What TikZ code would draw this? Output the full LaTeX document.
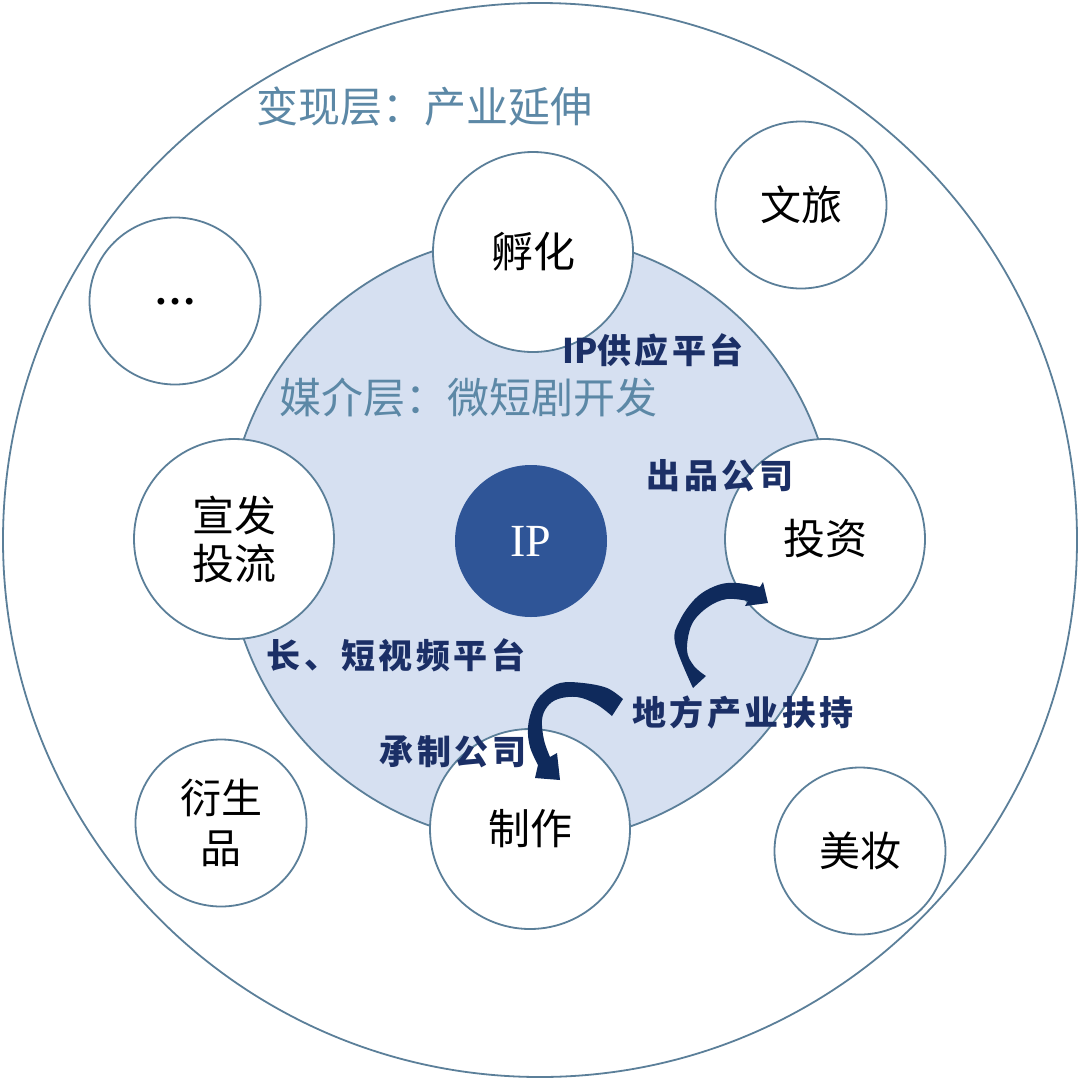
\documentclass[tikz,border=0pt]{standalone}
\usepackage{fontspec}
\setmainfont{Liberation Serif}
\newfontfamily\cjk{Noto Sans CJK SC}
\newfontfamily\cjktag{Noto Sans CJK SC}[LetterSpace=10]
\newfontfamily\cjklat{Noto Sans CJK SC}
\usetikzlibrary{shapes.geometric}
\definecolor{edgec}{HTML}{5B7F99}
\definecolor{midc}{HTML}{D6E0F1}
\definecolor{ipblue}{HTML}{2F5597}
\definecolor{layerc}{HTML}{5C88A6}
\definecolor{navyc}{HTML}{1B2F66}
\definecolor{arrowc}{HTML}{0F2A5C}
\tikzset{
  ring/.style={circle, draw=edgec, line width=1.8pt, fill=white, minimum size=#1, inner sep=0pt, align=center, font=\cjk\fontsize{42}{48}\selectfont},
  smallring/.style={ellipse, draw=edgec, line width=1.8pt, fill=white, minimum width=171pt, minimum height=167pt, inner sep=0pt, align=center, font=\cjk\fontsize{41}{50}\selectfont},
  layertitle/.style={font=\cjk\fontsize{42}{48}\selectfont, text=layerc, inner sep=0pt},
  tag/.style={font=\cjktag\bfseries\fontsize{34}{38}\selectfont, text=navyc, inner sep=0pt},
  blockarrow/.style={fill=arrowc, draw=none}
}
\begin{document}
\begin{tikzpicture}[x=1pt,y=-1pt]
\useasboundingbox (0,0) rectangle (1080,1080);
\node[circle, draw=edgec, line width=1.8pt, fill=white, minimum size=1074pt, inner sep=0pt] (outer) at (540,540) {};
\node[circle, draw=edgec, line width=1.8pt, fill=midc, minimum size=608pt, inner sep=0pt] (media) at (531,539) {};
\node[circle, fill=ipblue, minimum size=152pt, inner sep=0pt, text=white, font=\fontsize{46}{50}\selectfont] (ip) at (531,541) {IP};
\node[ring=200pt] (fuhua) at (533,252) {孵化};
\node[ring=200pt] (touzi) at (825,539) {投资};
\node[ring=200pt] (xuanfa) at (234,539) {宣发\\投流};
\node[ring=200pt] (zhizuo) at (530,829) {制作};
\node[smallring] (wenlv) at (801,205) {文旅};
\node[smallring] (more) at (175,301) {};
\node[font=\bfseries\fontsize{42}{48}\selectfont, anchor=base, inner sep=0pt] (dots) at (175,304) {…};
\node[smallring] (yansheng) at (221,823) {衍生\\品};
\node[smallring] (meizhuang) at (860,851) {美妆};
\node[layertitle] (t1) at (424,107) {变现层：产业延伸};
\node[layertitle] (t2) at (468,398) {媒介层：微短剧开发};
% curved block arrows
\coordinate (a1tail) at (693,688);
\coordinate (a1tip) at (768,603);
\fill[blockarrow] (a1tail) -- plot[smooth, tension=0.6] coordinates {(693,688) (675,643) (680,620) (697,597) (718,585) (737,583) (760,587)} -- (763,582) -- (a1tip) -- (745,606) -- plot[smooth, tension=0.6] coordinates {(748,601) (727,599) (708,607) (692,624) (687,650) (694,666) (706,676)} -- cycle;
\coordinate (a2tail) at (623,699);
\coordinate (a2tip) at (560,780);
\fill[blockarrow] (a2tail) -- plot[smooth, tension=0.6] coordinates {(623,699) (607,688) (583,683) (560,683) (543,693) (533,707) (528,727) (530,747) (538,765)} -- (535,778) -- (a2tip) -- (557,753) -- plot[smooth, tension=0.6] coordinates {(550,757) (544,740) (542,720) (547,707) (558,699) (577,697) (596,704) (612,716)} -- cycle;
\node[tag] (ipsupply) at (653,350) {{\cjklat IP}供应平台};
\node[tag] (chupin) at (720,476) {出品公司};
\node[tag] (platform) at (396,655) {长、短视频平台};
\node[tag] (support) at (743,713) {地方产业扶持};
\node[tag] (chengzhi) at (453,752) {承制公司};
\end{tikzpicture}
\end{document}
